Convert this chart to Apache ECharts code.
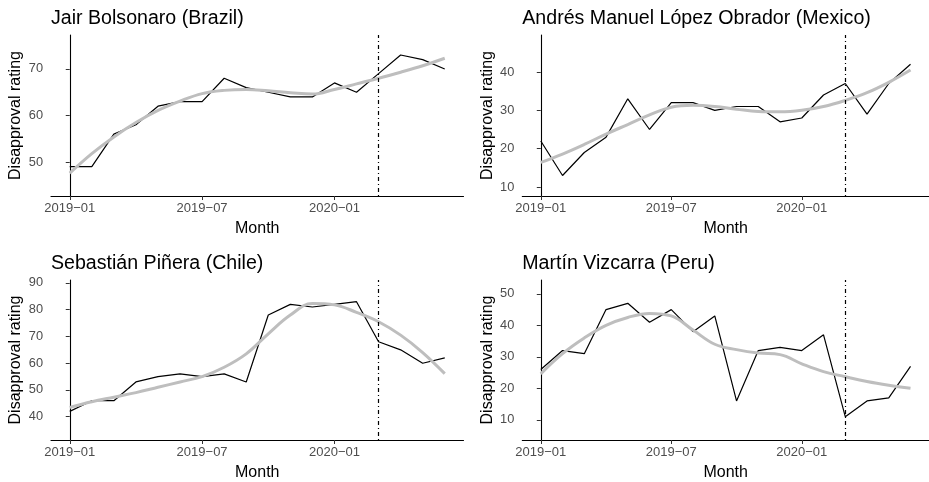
<!DOCTYPE html>
<html>
<head>
<meta charset="utf-8">
<script src="https://cdn.jsdelivr.net/npm/echarts@6/dist/echarts.min.js"></script>
<style>
  html, body { margin: 0; padding: 0; background: #fff; }
  #chart { width: 929px; height: 482px; }
</style>
</head>
<body>
<div id="chart"></div>
<script>
// months, 2019-01 .. 2020-06
const months = ['2019-01', '2019-02', '2019-03', '2019-04', '2019-05', '2019-06',
  '2019-07', '2019-08', '2019-09', '2019-10', '2019-11', '2019-12',
  '2020-01', '2020-02', '2020-03', '2020-04', '2020-05', '2020-06']
const tickMonths = ['2019-01', '2019-07', '2020-01']
const markMonth = '2020-03'

const titles = ['Jair Bolsonaro (Brazil)', 'Andrés Manuel López Obrador (Mexico)',
  'Sebastián Piñera (Chile)', 'Martín Vizcarra (Peru)']

// disapproval ratings (black line)
const brazil = [49, 49, 56, 58, 62, 63, 63, 68, 66, 65, 64, 64, 67, 65, 69, 73, 72, 70]
const mexico = [22, 13, 19, 23, 33, 25, 32, 32, 30, 31, 31, 27, 28, 34, 37, 29, 37, 42]
const chile = [42, 46, 46, 53, 55, 56, 55, 56, 53, 78, 82, 81, 82, 83, 68, 65, 60, 62]
const peru = [26, 32, 31, 45, 47, 41, 45, 38, 43, 16, 32, 33, 32, 37, 11, 16, 17, 27]

// smoothed trend (grey line)
const brazilSmooth = [47.6, 51.8, 55.4, 58.5, 61.1, 63.1, 64.7, 65.4, 65.6, 65.3, 64.9, 64.6, 65.6, 66.8, 68.0, 69.3, 70.7, 72.3]
const mexicoSmooth = [16.4, 18.6, 21.1, 23.8, 26.3, 28.8, 30.8, 31.3, 31.0, 30.3, 29.7, 29.6, 30.0, 31.0, 32.6, 34.6, 37.3, 40.5]
const chileSmooth = [43.5, 45.6, 47.3, 49.0, 51.0, 53.0, 55.0, 58.5, 63.5, 71.0, 78.0, 82.3, 81.8, 79.0, 75.5, 70.5, 64.0, 56.1]
const peruSmooth = [24.6, 31.0, 36.0, 40.0, 42.5, 43.8, 43.0, 38.5, 34.0, 32.3, 31.2, 30.7, 27.8, 25.3, 23.7, 22.2, 21.0, 20.0]

// y axis ranges and ticks per panel
const yRanges = [[42.7, 77.3], [7.65, 49.65], [31.3, 91.1], [3.6, 54.4]]
const yTicks = [[50, 60, 70], [10, 20, 30, 40], [40, 50, 60, 70, 80, 90], [10, 20, 30, 40, 50]]

const panels = [
  { actual: brazil, smooth: brazilSmooth },
  { actual: mexico, smooth: mexicoSmooth },
  { actual: chile, smooth: chileSmooth },
  { actual: peru, smooth: peruSmooth }
]

const chart = echarts.init(document.getElementById('chart'), null, { renderer: 'canvas' })

const FONT = 'Liberation Sans, Arial, Helvetica, sans-serif'
const gridPos = [
  { left: 51, top: 35 },
  { left: 522.3, top: 35 },
  { left: 51, top: 280 },
  { left: 522.3, top: 280 }
]
const GRID_W = 412.5
const GRID_H = 161

const xTickIdx = tickMonths.map(m => months.indexOf(m))
const markIdx = months.indexOf(markMonth)

const axisLine = { show: true, lineStyle: { color: '#000', width: 1.1 } }

const option = {
  backgroundColor: '#fff',
  animation: false,
  title: titles.map((t, i) => ({
    text: t,
    left: gridPos[i].left,
    top: gridPos[i].top - 26,
    padding: 0,
    textStyle: { fontFamily: FONT, fontSize: 19.6, fontWeight: 'normal', color: '#000' }
  })),
  grid: gridPos.map(g => ({ left: g.left, top: g.top, width: GRID_W, height: GRID_H })),
  xAxis: panels.map((p, i) => ({
    type: 'value',
    gridIndex: i,
    min: -0.85,
    max: months.length - 1 + 0.85,
    name: 'Month',
    nameLocation: 'middle',
    nameGap: 25,
    nameTextStyle: { fontFamily: FONT, fontSize: 16, color: '#000' },
    axisLine: axisLine,
    axisTick: { show: true, length: 4, customValues: xTickIdx, lineStyle: { color: '#333', width: 1 } },
    axisLabel: {
      customValues: xTickIdx,
      margin: 6,
      fontFamily: FONT,
      fontSize: 13,
      color: '#4d4d4d',
      formatter: v => months[Math.round(v)].replace('-', '\u2212')
    },
    splitLine: { show: false }
  })),
  yAxis: panels.map((p, i) => ({
    type: 'value',
    gridIndex: i,
    min: yRanges[i][0],
    max: yRanges[i][1],
    name: 'Disapproval rating',
    nameLocation: 'middle',
    nameGap: 27,
    nameTextStyle: { fontFamily: FONT, fontSize: 16, color: '#000' },
    axisLine: axisLine,
    axisTick: { show: true, length: 4, customValues: yTicks[i], lineStyle: { color: '#333', width: 1 } },
    axisLabel: {
      customValues: yTicks[i],
      margin: 8,
      fontFamily: FONT,
      fontSize: 12.8,
      color: '#4d4d4d'
    },
    splitLine: { show: false }
  })),
  series: panels.flatMap((p, i) => [
    {
      type: 'line',
      xAxisIndex: i,
      yAxisIndex: i,
      data: p.actual.map((v, k) => [k, v]),
      showSymbol: false,
      lineStyle: { color: '#000', width: 1.2 },
      z: 2,
      markLine: {
        silent: true,
        symbol: 'none',
        label: { show: false },
        lineStyle: { color: '#000', width: 1.2, type: [1, 3, 4, 3] },
        data: [{ xAxis: markIdx }]
      }
    },
    {
      type: 'line',
      xAxisIndex: i,
      yAxisIndex: i,
      data: p.smooth.map((v, k) => [k, v]),
      showSymbol: false,
      smooth: 0.4,
      lineStyle: { color: '#bebebe', width: 3 },
      z: 3
    }
  ])
}

chart.setOption(option)
</script>
</body>
</html>
